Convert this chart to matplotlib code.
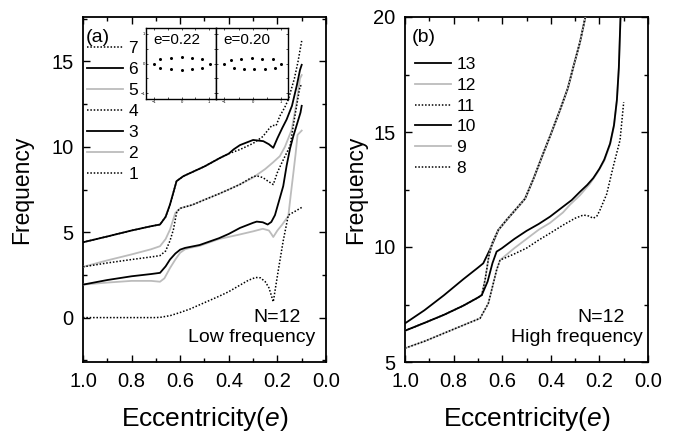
import matplotlib
matplotlib.use('Agg')
import matplotlib.pyplot as plt
from matplotlib.ticker import MultipleLocator
from matplotlib.lines import Line2D

plt.rcParams['font.family'] = 'Liberation Sans'
plt.rcParams['mathtext.fontset'] = 'custom'
plt.rcParams['mathtext.rm'] = 'Liberation Sans'
plt.rcParams['mathtext.it'] = 'Liberation Sans:italic'

GRAY = '#bcbcbc'
DOT = (0, (1, 1.2))

# ---- panel (a): low frequency modes ----
e1 = [1.0, 0.9, 0.8, 0.7, 0.68, 0.64, 0.60, 0.56, 0.52, 0.48, 0.44, 0.40, 0.36, 0.32, 0.29, 0.27,
      0.25, 0.235, 0.225, 0.217, 0.21, 0.196, 0.176, 0.155, 0.13, 0.1]
f1 = [0.0, 0.0, 0.0, 0.0, 0.02, 0.12, 0.3, 0.5, 0.75, 1.0, 1.25, 1.52, 1.85, 2.18, 2.35, 2.33,
      2.1, 1.75, 1.3, 0.92, 1.55, 2.8, 4.5, 6.0, 6.2, 6.45]

e2 = [1.0, 0.9, 0.8, 0.72, 0.683, 0.665, 0.642, 0.62, 0.60, 0.58, 0.56, 0.52, 0.44, 0.36, 0.30,
      0.26, 0.235, 0.225, 0.217, 0.20, 0.18, 0.155, 0.145, 0.134, 0.125, 0.117, 0.1]
f2 = [1.93, 2.05, 2.15, 2.15, 2.1, 2.3, 2.9, 3.4, 3.8, 4.0, 4.08, 4.2, 4.6, 4.85, 5.05,
      5.2, 5.1, 4.9, 4.72, 5.1, 5.45, 5.95, 7.2, 8.5, 9.6, 10.7, 10.95]

e3 = [1.0, 0.9, 0.8, 0.72, 0.683, 0.66, 0.642, 0.62, 0.60, 0.58, 0.52, 0.44, 0.40, 0.354, 0.30,
      0.285, 0.26, 0.24, 0.225, 0.21, 0.2, 0.176, 0.162, 0.148, 0.135, 0.12, 0.105, 0.1]
f3 = [1.93, 2.2, 2.42, 2.55, 2.62, 3.0, 3.4, 3.75, 3.98, 4.08, 4.25, 4.65, 4.9, 5.25, 5.55,
      5.62, 5.58, 5.45, 5.6, 6.0, 6.5, 7.7, 8.9, 9.9, 10.6, 11.3, 12.0, 12.4]

e4 = [1.0, 0.9, 0.8, 0.72, 0.683, 0.66, 0.642, 0.628, 0.614, 0.60, 0.55, 0.50, 0.44, 0.40, 0.354,
      0.30, 0.285, 0.26, 0.24, 0.217, 0.2, 0.182, 0.16, 0.148, 0.128, 0.107, 0.1]
f4 = [2.97, 3.2, 3.4, 3.55, 3.63, 3.9, 4.5, 5.15, 6.2, 6.4, 6.6, 6.9, 7.25, 7.5, 7.8,
      8.25, 8.3, 8.2, 8.0, 7.79, 8.5, 9.06, 9.7, 10.04, 11.8, 13.55, 13.6]

e5 = [1.0, 0.9, 0.8, 0.72, 0.683, 0.66, 0.642, 0.62, 0.60, 0.55, 0.50, 0.44, 0.40, 0.354, 0.30,
      0.285, 0.25, 0.217, 0.19, 0.169, 0.141, 0.121, 0.107, 0.1]
f5 = [2.97, 3.35, 3.7, 4.0, 4.18, 4.6, 5.15, 6.13, 6.4, 6.6, 6.9, 7.25, 7.5, 7.8, 8.2,
      8.35, 8.7, 9.1, 9.45, 10.0, 11.0, 12.6, 14.0, 14.2]

e6 = [1.0, 0.9, 0.8, 0.72, 0.683, 0.66, 0.642, 0.615, 0.587, 0.5, 0.436, 0.40, 0.38, 0.354, 0.30,
      0.258, 0.235, 0.217, 0.20, 0.18, 0.162, 0.14, 0.12, 0.107, 0.1]
f6 = [4.41, 4.75, 5.1, 5.35, 5.45, 5.9, 6.62, 7.99, 8.28, 8.85, 9.35, 9.6, 9.85, 10.1, 10.4,
      10.33, 10.15, 9.94, 10.5, 11.1, 11.6, 12.4, 13.6, 14.5, 14.8]

e7 = [1.0, 0.9, 0.8, 0.72, 0.683, 0.66, 0.642, 0.615, 0.587, 0.5, 0.436, 0.40, 0.354, 0.30, 0.26,
      0.232, 0.222, 0.205, 0.19, 0.17, 0.155, 0.13, 0.115, 0.1]
f7 = [4.41, 4.75, 5.1, 5.35, 5.45, 5.9, 6.62, 7.99, 8.28, 8.85, 9.35, 9.6, 9.84, 10.2, 10.6,
      11.1, 11.25, 11.25, 11.8, 12.3, 12.77, 14.0, 15.0, 16.2]

# ---- panel (b): high frequency modes ----
e8 = [1.0, 0.92, 0.84, 0.76, 0.691, 0.657, 0.623, 0.609, 0.55, 0.50, 0.45, 0.403, 0.35, 0.30,
      0.266, 0.245, 0.225, 0.21, 0.198, 0.17, 0.143, 0.115, 0.1]
f8 = [5.6, 5.9, 6.25, 6.6, 6.9, 7.55, 9.0, 9.43, 9.7, 9.95, 10.3, 10.6, 10.95, 11.25,
      11.39, 11.35, 11.25, 11.35, 11.6, 12.3, 13.5, 14.65, 16.3]

e9 = [1.0, 0.92, 0.84, 0.76, 0.691, 0.657, 0.623, 0.609, 0.55, 0.50, 0.45, 0.403, 0.35, 0.32,
      0.28, 0.239, 0.21, 0.18, 0.156, 0.14, 0.128, 0.12, 0.115, 0.11]
f9 = [5.6, 5.9, 6.25, 6.6, 6.9, 7.55, 9.0, 9.43, 9.95, 10.35, 10.75, 11.05, 11.5, 11.85,
      12.25, 12.75, 13.2, 13.75, 14.45, 15.25, 16.35, 17.75, 19.35, 21.0]

e10 = [1.0, 0.92, 0.84, 0.76, 0.70, 0.684, 0.66, 0.64, 0.623, 0.602, 0.55, 0.50, 0.45, 0.403,
       0.35, 0.314, 0.28, 0.25, 0.225, 0.20, 0.18, 0.156, 0.14, 0.128, 0.12, 0.115, 0.11]
f10 = [6.36, 6.7, 7.05, 7.45, 7.8, 7.91, 8.5, 9.3, 9.8, 9.94, 10.35, 10.7, 11.0, 11.32,
       11.75, 12.04, 12.4, 12.7, 13.0, 13.4, 13.8, 14.5, 15.3, 16.4, 17.8, 19.4, 21.0]

e11 = [1.0, 0.92, 0.84, 0.76, 0.70, 0.684, 0.67, 0.655, 0.64, 0.616, 0.58, 0.547, 0.506, 0.47,
       0.43, 0.40, 0.362, 0.33, 0.307, 0.28, 0.259, 0.24]
f11 = [6.36, 6.7, 7.05, 7.45, 7.8, 7.91, 8.6, 9.6, 10.2, 10.74, 11.2, 11.6, 12.1, 13.0,
       14.1, 14.9, 15.96, 16.9, 17.84, 18.9, 19.94, 21.0]

e12 = [1.0, 0.92, 0.84, 0.76, 0.70, 0.684, 0.67, 0.655, 0.64, 0.616, 0.58, 0.547, 0.506, 0.47,
       0.43, 0.40, 0.362, 0.33, 0.307, 0.28, 0.259, 0.24]
f12 = [6.36, 6.7, 7.05, 7.45, 7.8, 7.91, 8.6, 9.6, 10.2, 10.74, 11.2, 11.6, 12.1, 13.0,
       14.1, 14.9, 15.96, 16.9, 17.84, 18.9, 19.94, 21.0]

e13 = [1.0, 0.92, 0.84, 0.76, 0.70, 0.678, 0.65, 0.616, 0.58, 0.547, 0.506, 0.47, 0.43, 0.40,
       0.362, 0.33, 0.307, 0.28, 0.259, 0.24]
f13 = [6.68, 7.25, 7.9, 8.6, 9.1, 9.29, 9.9, 10.74, 11.2, 11.6, 12.1, 13.0, 14.1, 14.9,
       15.96, 16.9, 17.84, 18.9, 19.94, 21.0]

# ---- inset: ion positions ----
ion_x_22 = [-1.02, -0.78, -0.38, 0.0, 0.38, 0.75, 1.02, 0.75, 0.38, 0.0, -0.38, -0.78]
ion_y_22 = [0.0, 0.16, 0.19, 0.22, 0.19, 0.14, 0.0, -0.15, -0.2, -0.22, -0.2, -0.15]
ion_x_20 = [-1.0, -0.76, -0.41, -0.04, 0.34, 0.72, 1.0, 0.8, 0.44, 0.06, -0.32, -0.68]
ion_y_20 = [0.0, 0.11, 0.16, 0.18, 0.16, 0.14, 0.0, -0.15, -0.2, -0.2, -0.2, -0.15]

low_curves = [('1', e1, f1), ('2', e2, f2), ('3', e3, f3), ('4', e4, f4),
              ('5', e5, f5), ('6', e6, f6), ('7', e7, f7)]
high_curves = [('8', e8, f8), ('9', e9, f9), ('10', e10, f10), ('11', e11, f11),
               ('12', e12, f12), ('13', e13, f13)]

# colour, line style, drawing order
styles = {
    '1': ('k', DOT, 5), '2': (GRAY, '-', 3), '3': ('k', '-', 4), '4': ('k', DOT, 5),
    '5': (GRAY, '-', 3), '6': ('k', '-', 4), '7': ('k', DOT, 5),
    '8': ('k', DOT, 5), '9': (GRAY, '-', 3), '10': ('k', '-', 4), '11': ('k', DOT, 5),
    '12': (GRAY, '-', 3), '13': ('k', '-', 2),
}


def style_axes(ax, ylim, ylabelpad):
    ax.set_xlim(1.0, 0.0)
    ax.set_ylim(*ylim)
    ax.xaxis.set_major_locator(MultipleLocator(0.2))
    ax.xaxis.set_minor_locator(MultipleLocator(0.1))
    ax.yaxis.set_major_locator(MultipleLocator(5))
    ax.yaxis.set_minor_locator(MultipleLocator(2.5))
    ax.tick_params(which='both', direction='in', top=True, right=True, width=1.0)
    ax.tick_params(which='major', length=5, labelsize=14.5, pad=7)
    ax.tick_params(which='minor', length=3)
    for s in ax.spines.values():
        s.set_linewidth(1.3)
    ax.set_xlabel('Eccentricity($e$)', fontsize=19, labelpad=10)
    ax.set_ylabel('Frequency', fontsize=16.5, labelpad=ylabelpad)


def draw(ax, curves):
    handles = []
    for name, e, f in curves:
        c, ls, z = styles[name]
        lw = 1.1 if ls == DOT else 1.3
        ax.plot(e, f, color=c, linestyle=ls, lw=lw, zorder=z)
        handles.append(Line2D([], [], color=c, linestyle=ls, lw=lw))
    return handles


fig = plt.figure(figsize=(6.78, 4.34), dpi=100)
ax_a = fig.add_axes([83 / 678, 72 / 434, 243 / 678, 345 / 434])
ax_b = fig.add_axes([405 / 678, 72 / 434, 243 / 678, 345 / 434])

leg_kw = dict(loc='upper left', frameon=False, fontsize=12.5, handlelength=2.1,
              handletextpad=0.3, labelspacing=0.33, borderpad=0, borderaxespad=0)

h_a = draw(ax_a, low_curves)
style_axes(ax_a, (-2.6, 17.6), 13)
ax_a.legend(h_a[::-1], [n for n, _, _ in low_curves][::-1],
            bbox_to_anchor=(0.015, 0.93), **leg_kw)
ax_a.text(0.06, 0.942, '(a)', transform=ax_a.transAxes, fontsize=14,
          ha='center', va='center')
ax_a.text(0.8, 0.13, 'N=12', transform=ax_a.transAxes, fontsize=14,
          ha='center', va='center')
ax_a.text(0.695, 0.072, 'Low frequency', transform=ax_a.transAxes, fontsize=14,
          ha='center', va='center')

h_b = draw(ax_b, high_curves)
style_axes(ax_b, (5, 20), 4)
ax_b.legend(h_b[::-1], [n for n, _, _ in high_curves][::-1],
            bbox_to_anchor=(0.04, 0.885), **leg_kw)
ax_b.text(0.078, 0.942, '(b)', transform=ax_b.transAxes, fontsize=14,
          ha='center', va='center')
ax_b.text(0.807, 0.13, 'N=12', transform=ax_b.transAxes, fontsize=14,
          ha='center', va='center')
ax_b.text(0.708, 0.072, 'High frequency', transform=ax_b.transAxes, fontsize=14,
          ha='center', va='center')

# inset with ion configurations
ins_l = fig.add_axes([146 / 678, 335 / 434, 70 / 678, 71 / 434])
ins_r = fig.add_axes([216 / 678, 335 / 434, 72 / 678, 71 / 434])
for ins, xs, ys, lab in [(ins_l, ion_x_22, ion_y_22, 'e=0.22'),
                         (ins_r, ion_x_20, ion_y_20, 'e=0.20')]:
    ins.plot(xs, ys, 'o', color='k', ms=2.2, mec='none')
    ins.set_xlim(-1.3, 1.25)
    ins.set_ylim(-1.2, 1.2)
    ins.xaxis.set_major_locator(MultipleLocator(1))
    ins.xaxis.set_minor_locator(MultipleLocator(0.5))
    ins.yaxis.set_major_locator(MultipleLocator(1))
    ins.yaxis.set_minor_locator(MultipleLocator(0.5))
    ins.tick_params(which='both', direction='in', top=True, right=True,
                    length=1.5, width=0.5, labelsize=3, pad=0.5)
    for s in ins.spines.values():
        s.set_linewidth(1.0)
    ins.text(0.1, 0.93, lab, transform=ins.transAxes, fontsize=11,
             ha='left', va='top')
ins_r.tick_params(labelleft=False)

fig.savefig('out.png', dpi=100)
